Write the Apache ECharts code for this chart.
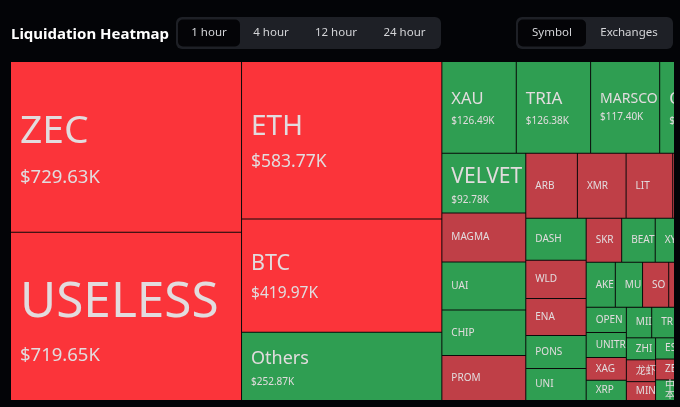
<!DOCTYPE html>
<html>
<head>
<meta charset="utf-8">
<title>Liquidation Heatmap</title>
<script src="https://cdn.jsdelivr.net/npm/echarts@6/dist/echarts.min.js"></script>
<style>
html, body { margin: 0; padding: 0; background: #030407; }
#main { width: 680px; height: 407px; }
</style>
</head>
<body>
<div id="main"></div>
<script>
var FONT = '"Noto Sans", "Noto Sans CJK SC", sans-serif';
var TEXT_COLOR = '#e2dcde';

// symbols, biggest first. '' = cell runs past the right edge, symbol can't be read
var names = ['ZEC', 'USELESS', 'ETH', 'BTC', 'Others', 'XAU', 'TRIA', 'MARSCOIN', 'O',
    'VELVET', 'MAGMA', 'UAI', 'CHIP', 'PROM', 'ARB', 'XMR', 'LIT', '',
    'DASH', 'WLD', 'ENA', 'PONS', 'UNI', 'SKR', 'BEAT', 'XY', '',
    'AKE', 'MUE', 'SOL', '', '', 'OPENA', 'UNITR', 'XAG', 'XRP',
    'MII', 'TR', '', '', 'ZHIF', '龙虾', 'MINA', 'ES', 'ZE', '中\n本', '', '', '', '', '', '', ''];
// liquidation amount in $K
var values = [729.63, 719.65, 583.77, 419.97, 252.87, 126.49, 126.38, 117.40, 100,
    92.78, 76, 74.5, 70.5, 70, 62, 58.5, 56, 55,
    47, 42.5, 41.4, 36.9, 35.8, 28.9, 27.3, 26.5, 25,
    24.3, 22.7, 21.8, 21, 20.5, 18.7, 18.6, 17, 15,
    14.3, 13.2, 12.5, 12, 11.9, 11.8, 10.2, 10.1, 9.9, 9.8, 7, 7, 7, 6, 6, 5.2, 5];
// g = green, r = muted red, h = bright red
var sides = ['h', 'h', 'h', 'h', 'g', 'g', 'g', 'g', 'g',
    'g', 'r', 'g', 'g', 'r', 'r', 'r', 'r', 'r',
    'g', 'r', 'r', 'g', 'g', 'r', 'g', 'g', 'g',
    'g', 'g', 'r', 'r', 'g', 'g', 'g', 'r', 'g',
    'g', 'g', 'r', 'g', 'g', 'r', 'r', 'g', 'r', 'g', 'g', 'g', 'g', 'g', 'g', 'g', 'g'];
var amountLabels = {
    ZEC: '$729.63K', USELESS: '$719.65K', ETH: '$583.77K', BTC: '$419.97K', Others: '$252.87K',
    XAU: '$126.49K', TRIA: '$126.38K', MARSCOIN: '$117.40K', O: '$100.00K', VELVET: '$92.78K'
};
var timeTabs = ['1 hour', '4 hour', '12 hour', '24 hour'];
var viewTabs = ['Symbol', 'Exchanges'];

var colors = { h: '#fb343a', r: '#bf3f47', g: '#2f9e52' };
// [name size, amount size, line height, offset from cell top]
var labelStyles = {
    ZEC: [39, 18.5, 46, 47],
    USELESS: [49.5, 18.5, 53, 43.5],
    ETH: [28, 17.5, 35, 47.5],
    BTC: [21.5, 15.5, 30, 29],
    Others: [18, 10, 23, 14.5],
    XAU: [16.5, 10, 22, 26],
    TRIA: [17, 10, 22, 26],
    MARSCOIN: [14, 10, 18, 28],
    O: [17, 10, 22, 26],
    VELVET: [21, 10, 23, 11.5]
};

var buildData = function() {
    return names.map(function(n, i) {
        var item = {
            name: n,
            value: values[i],
            itemStyle: { color: colors[sides[i]] }
        };
        var st = labelStyles[n];
        if (st) {
            item.label = {
                // rich text starts at the top of the cell, so push it down by hand
                padding: [st[3], 0, 0, 6],
                formatter: '{n|' + n + '}\n{v|' + amountLabels[n] + '}',
                rich: {
                    n: { fontFamily: FONT, fontSize: st[0], lineHeight: st[2], color: TEXT_COLOR },
                    v: { fontFamily: FONT, fontSize: st[1], lineHeight: st[2], color: TEXT_COLOR }
                }
            };
        } else if (n.indexOf('\n') >= 0) {
            item.label = { lineHeight: 9.5 };
        }
        return item;
    });
};

// header pill: dark tray with the active tab cut out in black
var buildTabs = function(labels, widths, trayX, trayW) {
    var els = [{
        type: 'rect', shape: { x: trayX, y: 17, width: trayW, height: 32, r: 6 },
        style: { fill: '#1e2026' }
    }, {
        type: 'rect', shape: { x: trayX + 2, y: 19.5, width: widths[0], height: 27, r: 5 },
        style: { fill: '#040407' }
    }];
    var x = trayX + 2;
    labels.forEach(function(t, i) {
        els.push({
            type: 'text',
            style: {
                text: t, x: x + widths[i] / 2, y: 33, align: 'center', verticalAlign: 'middle',
                fill: '#d4d5d8', font: '11.5px ' + FONT
            }
        });
        x += widths[i];
    });
    return els;
};

var chart = echarts.init(document.getElementById('main'));
chart.setOption({
    backgroundColor: '#030407',
    title: {
        text: 'Liquidation Heatmap', left: 6, top: 22,
        textStyle: { color: '#fff', fontFamily: FONT, fontSize: 15, fontWeight: 700 }
    },
    graphic: buildTabs(timeTabs, [62, 62, 68, 69], 176, 265)
        .concat(buildTabs(viewTabs, [68, 86], 516, 157))
        .concat([{
            // treemap is wider than the window, its right edge is cut off like the screenshot
            type: 'rect', z: 100, shape: { x: 674, y: 55, width: 6, height: 352 },
            style: { fill: '#030407' }
        }]),
    series: [{
        type: 'treemap',
        left: 11,
        top: 62,
        width: 707,
        height: 338,
        roam: false,
        nodeClick: false,
        silent: true,
        sort: 'desc',
        breadcrumb: { show: false },
        label: {
            show: true,
            position: 'insideLeft',
            distance: 0,
            padding: [0, 0, 0, 6],
            offset: [3, 0],
            color: TEXT_COLOR,
            fontFamily: FONT,
            fontSize: 10,
            overflow: 'truncate',
            ellipsis: ''
        },
        itemStyle: { borderColor: '#0a0a0a', borderWidth: 0, gapWidth: 1 },
        levels: [{ itemStyle: { borderWidth: 0, gapWidth: 1, borderColor: '#0a0a0a' } }],
        data: buildData()
    }]
});

window.addEventListener('resize', function() {
    chart.resize();
});
</script>
</body>
</html>
